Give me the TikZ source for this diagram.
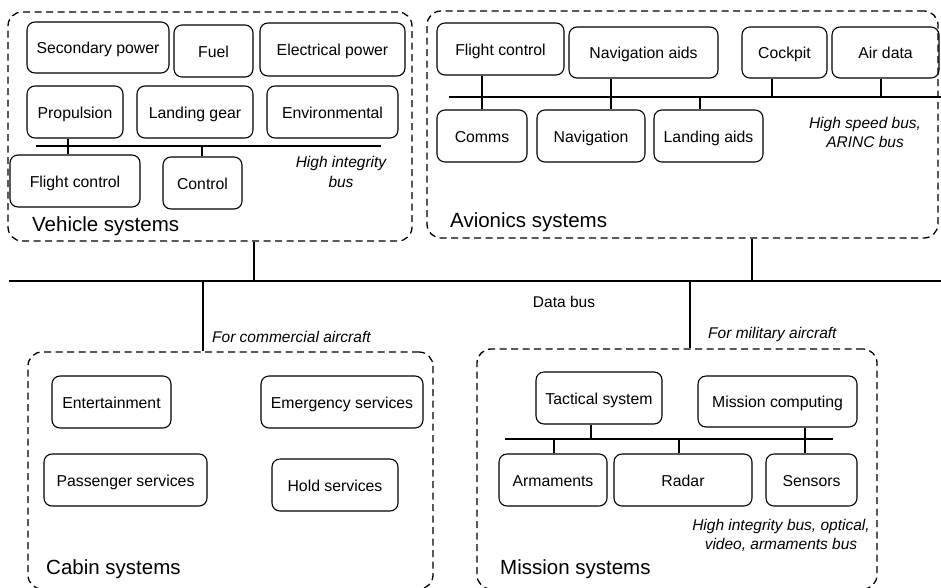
\documentclass[tikz,border=0pt]{standalone}
\usepackage{fontspec}
\setmainfont{Liberation Sans}
\begin{document}
\begin{tikzpicture}[x=1pt,y=-1pt,
  blk/.style={draw, line width=1.1pt, rounded corners=8pt, inner sep=0pt,
    text height=12pt, text depth=0pt,
    font=\fontsize{15.8}{18}\selectfont},
  grp/.style={draw, line width=1.3pt, dash pattern=on 7pt off 4.5pt,
    rounded corners=14pt, inner sep=0pt},
  grplabel/.style={anchor=west, inner sep=0pt, font=\fontsize{20.5}{24}\selectfont},
  note/.style={inner sep=0pt, align=center, font=\fontsize{15.5}{19.5}\selectfont\itshape},
  plain/.style={inner sep=0pt, font=\fontsize{15.5}{18}\selectfont},
  bus/.style={line width=2pt},
  link/.style={line width=1.6pt}]
\useasboundingbox (0,0) rectangle (941,587);

% ---------- system groups ----------
\node[grp, minimum width=404pt, minimum height=229pt] (veh) at (210,126.5) {};
\node[grp, minimum width=511pt, minimum height=227pt] (avi) at (682.5,124.5) {};
\node[grp, minimum width=405pt, minimum height=237pt] (cab) at (230.5,470.5) {};
\node[grp, minimum width=400pt, minimum height=240pt] (mis) at (677,469) {};

\node[grplabel] (vehlbl) at (32,226) {Vehicle systems};
\node[grplabel] (avilbl) at (450,222) {Avionics systems};
\node[grplabel] (cablbl) at (46,569) {Cabin systems};
\node[grplabel] (mislbl) at (500,569) {Mission systems};

% ---------- vehicle systems ----------
\node[blk, minimum width=142pt, minimum height=51pt] (sec)  at (98,47.5)   {Secondary power};
\node[blk, minimum width=79pt,  minimum height=52pt] (fuel) at (213.5,51)  {Fuel};
\node[blk, minimum width=145pt, minimum height=53pt] (elec) at (332.5,49.5) {Electrical power};
\node[blk, minimum width=96pt,  minimum height=52pt] (prop) at (75,112)    {Propulsion};
\node[blk, minimum width=116pt, minimum height=52pt] (gear) at (195,112)   {Landing gear};
\node[blk, minimum width=131pt, minimum height=52pt] (env)  at (332.5,112) {Environmental};
\node[blk, minimum width=130pt, minimum height=52pt] (vfc)  at (75,181)    {Flight control};
\node[blk, minimum width=79pt,  minimum height=52pt] (ctrl) at (202.5,183) {Control};
\node[note] (vnote) at (341,172) {High integrity\\bus};

\coordinate (vbL) at (36,146);
\coordinate (vbR) at (381,146);
\draw[bus] (vbL) -- (vbR);
\coordinate (vs1) at (68,146);
\coordinate (vs2) at (202,146);
\draw[link] (vs1 |- prop.south) -- (vs1 |- vfc.north);
\draw[link] (vs2) -- (vs2 |- ctrl.north);

% ---------- avionics systems ----------
\node[blk, minimum width=127pt, minimum height=52pt] (afc)     at (500.5,49)  {Flight control};
\node[blk, minimum width=149pt, minimum height=51pt] (navaids) at (643.5,52.5) {Navigation aids};
\node[blk, minimum width=85pt,  minimum height=51pt] (cock)    at (784.5,52.5) {Cockpit};
\node[blk, minimum width=107pt, minimum height=51pt] (air)     at (885.5,52.5) {Air data};
\node[blk, minimum width=90pt,  minimum height=52pt] (comms)   at (482,136)   {Comms};
\node[blk, minimum width=108pt, minimum height=52pt] (nav)     at (591,136)   {Navigation};
\node[blk, minimum width=109pt, minimum height=52pt] (laids)   at (708.5,136) {Landing aids};
\node[note] (anote) at (865,132.5) {High speed bus,\\ARINC bus};

\coordinate (abL) at (449,97);
\coordinate (abR) at (941,97);
\draw[bus] (abL) -- (abR);
\coordinate (as1) at (482,97);
\coordinate (as2) at (611,97);
\coordinate (as3) at (700,97);
\coordinate (as4) at (772,97);
\coordinate (as5) at (881,97);
\draw[link] (as1 |- afc.south) -- (as1 |- comms.north);
\draw[link] (as2 |- navaids.south) -- (as2 |- nav.north);
\draw[link] (as3) -- (as3 |- laids.north);
\draw[link] (as4 |- cock.south) -- (as4);
\draw[link] (as5 |- air.south) -- (as5);

% ---------- main data bus ----------
\coordinate (dbL) at (9,281);
\coordinate (dbR) at (941,281);
\draw[line width=2.3pt] (dbL) -- (dbR);
\node[plain] (dblbl) at (564,302) {Data bus};
\coordinate (d1) at (254,281);
\coordinate (d2) at (752,281);
\coordinate (d3) at (203,281);
\coordinate (d4) at (690,281);
\draw[link] (d1 |- veh.south) -- (d1);
\draw[link] (d2 |- avi.south) -- (d2);
\draw[link] (d3) -- (d3 |- cab.north);
\draw[link] (d4) -- (d4 |- mis.north);
\node[note, anchor=west] (comm) at (212,337) {For commercial aircraft};
\node[note, anchor=west] (mil)  at (708,334) {For military aircraft};

% ---------- cabin systems ----------
\node[blk, minimum width=119pt, minimum height=52pt] (ent)  at (111.5,402) {Entertainment};
\node[blk, minimum width=162pt, minimum height=52pt] (emer) at (342,402)   {Emergency services};
\node[blk, minimum width=163pt, minimum height=52pt] (pass) at (125.5,480) {Passenger services};
\node[blk, minimum width=126pt, minimum height=52pt] (hold) at (335,485)   {Hold services};

% ---------- mission systems ----------
\node[blk, minimum width=126pt, minimum height=52pt] (tac)   at (599,398)   {Tactical system};
\node[blk, minimum width=159pt, minimum height=51pt] (mcomp) at (777.5,401.5) {Mission computing};
\node[blk, minimum width=108pt, minimum height=52pt] (arm)   at (553,480)   {Armaments};
\node[blk, minimum width=138pt, minimum height=52pt] (radar) at (683,480)   {Radar};
\node[blk, minimum width=91pt,  minimum height=52pt] (sens)  at (811.5,480) {Sensors};
\node[note] (mnote) at (781,535.5) {High integrity bus, optical,\\video, armaments bus};

\coordinate (mbL) at (505,439);
\coordinate (mbR) at (833,439);
\draw[bus] (mbL) -- (mbR);
\coordinate (ms1) at (591,439);
\coordinate (ms2) at (554,439);
\coordinate (ms3) at (679,439);
\coordinate (ms4) at (805,439);
\draw[link] (ms1 |- tac.south) -- (ms1);
\draw[link] (ms2) -- (ms2 |- arm.north);
\draw[link] (ms3) -- (ms3 |- radar.north);
\draw[link] (ms4 |- mcomp.south) -- (ms4 |- sens.north);
\end{tikzpicture}
\end{document}
